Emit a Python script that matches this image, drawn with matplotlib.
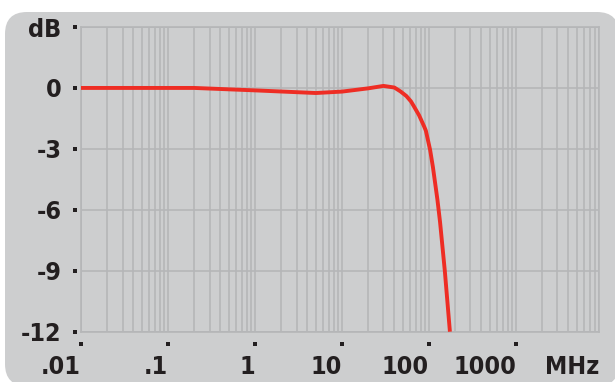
import matplotlib
matplotlib.use('Agg')
import matplotlib.pyplot as plt
import numpy as np
from matplotlib import font_manager
from matplotlib.patches import FancyBboxPatch
from matplotlib.transforms import offset_copy, blended_transform_factory

# frequency response, MHz vs dB
freq_mhz = [0.01, 0.2, 1, 5, 10, 20, 30, 40, 47, 55, 62, 67, 77, 88, 92,
            103, 111, 125, 134, 152, 174]
gain_db = [0, 0, -0.12, -0.25, -0.18, -0.02, 0.1, 0.02, -0.17, -0.4, -0.66,
           -0.9, -1.35, -1.9, -2.1, -3.05, -3.9, -5.5, -6.6, -9.0, -12]

x_ticks = [0.01, 0.1, 1, 10, 100, 1000]
x_labels = ['.01', '.1', '1', '10', '100', '1000']
y_ticks = [3, 0, -3, -6, -9, -12]
y_labels = ['dB', '0', '-3', '-6', '-9', '-12']

bg = '#cdcecf'
grid_col = '#b5b6b8'
ink = '#231f20'
red = '#ee2d24'

# prefer a condensed bold face for the labels if one is installed
cond = [f.fname for f in font_manager.fontManager.ttflist
        if ('Narrow' in f.name or 'Condensed' in f.name or f.stretch in ('condensed', 'semi-condensed'))
        and f.weight in (700, 'bold') and f.style == 'normal']
cond.sort()
if cond:
    lab_font = font_manager.FontProperties(fname=cond[0], size=18)
else:
    lab_font = font_manager.FontProperties(family='Liberation Sans', weight='bold', size=15)

fig = plt.figure(figsize=(6.15, 3.82), dpi=100)
fig.patch.set_facecolor('white')

# rounded grey panel behind everything (pixel units)
panel = FancyBboxPatch((5, -4), 614, 374, boxstyle='round,pad=0,rounding_size=22',
                       transform=None, facecolor=bg, edgecolor='none', zorder=0)
fig.add_artist(panel)

ax = fig.add_axes([81 / 615, 1 - 331.7 / 382, (599 - 81) / 615, (331.7 - 27) / 382])
ax.set_facecolor(bg)
ax.set_xscale('log')
ax.set_xlim(0.01, 9000)
ax.set_ylim(-12, 3)

for s in ax.spines.values():
    s.set_color(grid_col)
    s.set_linewidth(1.2)

ax.xaxis.set_minor_locator(matplotlib.ticker.LogLocator(base=10, subs=np.arange(2, 10)))
ax.grid(True, which='both', axis='x', color=grid_col, linewidth=1.2)
ax.grid(True, which='major', axis='y', color=grid_col, linewidth=1.2)
ax.set_axisbelow(True)

ax.set_xticks(x_ticks + [9000])
ax.set_xticklabels(x_labels + ['MHz'])
ax.xaxis.set_minor_formatter(matplotlib.ticker.NullFormatter())
ax.set_yticks(y_ticks)
ax.set_yticklabels(y_labels)
ax.tick_params(which='both', length=0)
ax.tick_params(axis='x', pad=17)
ax.tick_params(axis='y', pad=14)
for lbl in ax.get_xticklabels() + ax.get_yticklabels():
    lbl.set_fontproperties(lab_font)
    lbl.set_color(ink)
for lbl in ax.get_xticklabels():
    lbl.set_ha('right')

# small square tick marks set off from the frame
ytr = offset_copy(blended_transform_factory(ax.transAxes, ax.transData), fig=fig,
                  x=-6.5, y=0, units='dots')
ax.plot(np.zeros(len(y_ticks)), y_ticks, 's', ms=2.4, mew=0, color=ink,
        transform=ytr, clip_on=False)
xtr = offset_copy(blended_transform_factory(ax.transData, ax.transAxes), fig=fig,
                  x=0, y=-12.6, units='dots')
ax.plot(x_ticks, np.zeros(len(x_ticks)), 's', ms=2.4, mew=0, color=ink,
        transform=xtr, clip_on=False)

ax.plot(freq_mhz, gain_db, color=red, linewidth=2.8, solid_capstyle='butt', zorder=3)

fig.savefig('out.png', dpi=100, facecolor=fig.get_facecolor())
